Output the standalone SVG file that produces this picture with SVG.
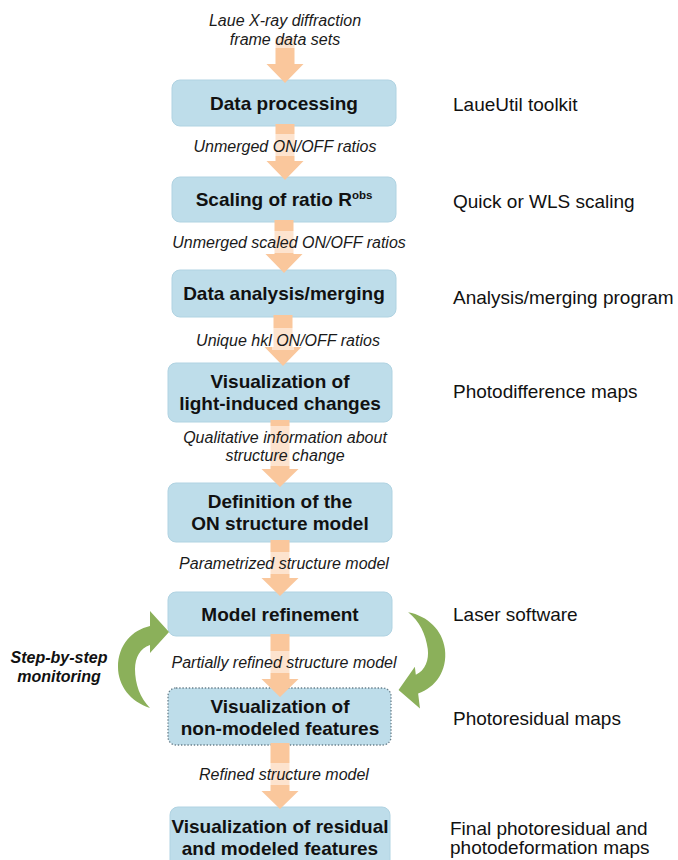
<svg xmlns="http://www.w3.org/2000/svg" xmlns:xlink="http://www.w3.org/1999/xlink" width="678" height="860" viewBox="0 0 678 860">
  <style>
    .box { fill: #BEDDEA; stroke: #B0D3E2; stroke-width: 1; }
    .box-dotted { fill: #BEDDEA; stroke: #6A808C; stroke-width: 1.3; stroke-dasharray: 1.4 1.8; }
    .title { font-family: "Liberation Sans", Arial, sans-serif; font-weight: bold; font-size: 19px; fill: #111; text-anchor: middle; }
    .flow { font-family: "Liberation Sans", Arial, sans-serif; font-style: italic; font-size: 16px; fill: #1a1a1a; text-anchor: middle; }
    .side { font-family: "Liberation Sans", Arial, sans-serif; font-size: 19px; fill: #111; }
    .note { font-family: "Liberation Sans", Arial, sans-serif; font-weight: bold; font-style: italic; font-size: 16px; fill: #111; text-anchor: middle; }
    .flow-arrow { fill: #FAC79C; }
    .veil { fill: #FFFFFF; opacity: 0.5; }
    .loop { fill: #8BB05A; }
  </style>
  <defs>
    <!-- curved feedback arrow: tail at bottom, head pointing right -->
    <path id="loop-arrow" d="M150,708 C131,702 118,686 118,667 C118,645 132,630 150,626 L150,611 L169,632 L150,653 L150,645 C140,648 135,658 135,669 C135,684 140,698 150,708 Z"/>
  </defs>

  <rect width="678" height="860" fill="#FFFFFF"/>

  <!-- process boxes -->
  <g id="data-processing">
    <rect class="box" x="172" y="80" width="224" height="46" rx="8"/>
    <text class="title" x="284" y="110">Data processing</text>
  </g>
  <g id="scaling">
    <rect class="box" x="172" y="177" width="224" height="45" rx="8"/>
    <text class="title" x="284" y="206">Scaling of ratio R<tspan font-size="11.5" dy="-7">obs</tspan></text>
  </g>
  <g id="analysis-merging">
    <rect class="box" x="172" y="270" width="224" height="47" rx="8"/>
    <text class="title" x="284" y="300">Data analysis/merging</text>
  </g>
  <g id="visualization-changes">
    <rect class="box" x="168" y="363" width="224" height="59" rx="8"/>
    <text class="title" x="280" y="388">Visualization of</text>
    <text class="title" x="280" y="410">light-induced changes</text>
  </g>
  <g id="on-structure-model">
    <rect class="box" x="168" y="483" width="224" height="59" rx="8"/>
    <text class="title" x="280" y="508">Definition of the</text>
    <text class="title" x="280" y="530">ON structure model</text>
  </g>
  <g id="model-refinement">
    <rect class="box" x="168" y="592" width="224" height="44" rx="8"/>
    <text class="title" x="280" y="621">Model refinement</text>
  </g>
  <g id="non-modeled-features">
    <rect class="box-dotted" x="168" y="688" width="223" height="57" rx="8"/>
    <text class="title" x="280" y="713">Visualization of</text>
    <text class="title" x="280" y="735">non-modeled features</text>
  </g>
  <g id="residual-features">
    <rect class="box" x="170" y="807" width="220" height="70" rx="8"/>
    <text class="title" x="280" y="833">Visualization of residual</text>
    <text class="title" x="280" y="855">and modeled features</text>
  </g>

  <!-- connectors: block arrows between steps, with their data labels -->
  <g id="connectors">
    <path class="flow-arrow" d="M275.5,38 h19 v26 h9 l-18.5,19 l-18.5,-19 h9 z"/>
    <rect class="veil" x="274" y="36" width="22" height="12"/>

    <path class="flow-arrow" d="M275.5,124 h19 v37 h9 l-18.5,19 l-18.5,-19 h9 z"/>
    <rect class="veil" x="274" y="134" width="22" height="22"/>

    <path class="flow-arrow" d="M274.5,220 h19 v34 h9 l-18.5,19 l-18.5,-19 h9 z"/>
    <rect class="veil" x="273" y="231" width="22" height="22"/>

    <path class="flow-arrow" d="M273.5,315 h19 v32 h9 l-18.5,19 l-18.5,-19 h9 z"/>
    <rect class="veil" x="272" y="328" width="22" height="22"/>

    <path class="flow-arrow" d="M270.5,420 h19 v49 h9 l-18.5,18 l-18.5,-18 h9 z"/>
    <rect class="veil" x="269" y="426" width="22" height="40"/>

    <path class="flow-arrow" d="M270.5,540 h19 v38 h9 l-18.5,18 l-18.5,-18 h9 z"/>
    <rect class="veil" x="269" y="552" width="22" height="22"/>

    <path class="flow-arrow" d="M270.5,634 h19 v45 h9 l-18.5,18 l-18.5,-18 h9 z"/>
    <rect class="veil" x="269" y="651" width="22" height="22"/>

    <path class="flow-arrow" d="M270.5,743 h19 v48 h9 l-18.5,18 l-18.5,-18 h9 z"/>
    <rect class="veil" x="269" y="763" width="22" height="22"/>

    <text class="flow" x="285" y="26">Laue X-ray diffraction</text>
    <text class="flow" x="285" y="45">frame data sets</text>
    <text class="flow" x="285" y="152">Unmerged ON/OFF ratios</text>
    <text class="flow" x="289" y="248">Unmerged scaled ON/OFF ratios</text>
    <text class="flow" x="288" y="346">Unique hkl ON/OFF ratios</text>
    <text class="flow" x="285" y="443">Qualitative information about</text>
    <text class="flow" x="285" y="461">structure change</text>
    <text class="flow" x="284" y="569">Parametrized structure model</text>
    <text class="flow" x="284" y="668">Partially refined structure model</text>
    <text class="flow" x="284" y="780">Refined structure model</text>
  </g>

  <!-- refinement monitoring loop -->
  <g id="monitoring-loop">
    <use xlink:href="#loop-arrow" class="loop"/>
    <use xlink:href="#loop-arrow" class="loop" transform="rotate(173 282 668)"/>
    <text class="note" x="59" y="663">Step-by-step</text>
    <text class="note" x="59" y="682">monitoring</text>
  </g>

  <!-- tools and outputs for each step -->
  <g id="side-labels">
    <text class="side" x="453" y="111">LaueUtil toolkit</text>
    <text class="side" x="453" y="208">Quick or WLS scaling</text>
    <text class="side" x="453" y="304">Analysis/merging program</text>
    <text class="side" x="453" y="398">Photodifference maps</text>
    <text class="side" x="453" y="621">Laser software</text>
    <text class="side" x="453" y="725">Photoresidual maps</text>
    <text class="side" x="450" y="835">Final photoresidual and</text>
    <text class="side" x="450" y="854">photodeformation maps</text>
  </g>
</svg>
